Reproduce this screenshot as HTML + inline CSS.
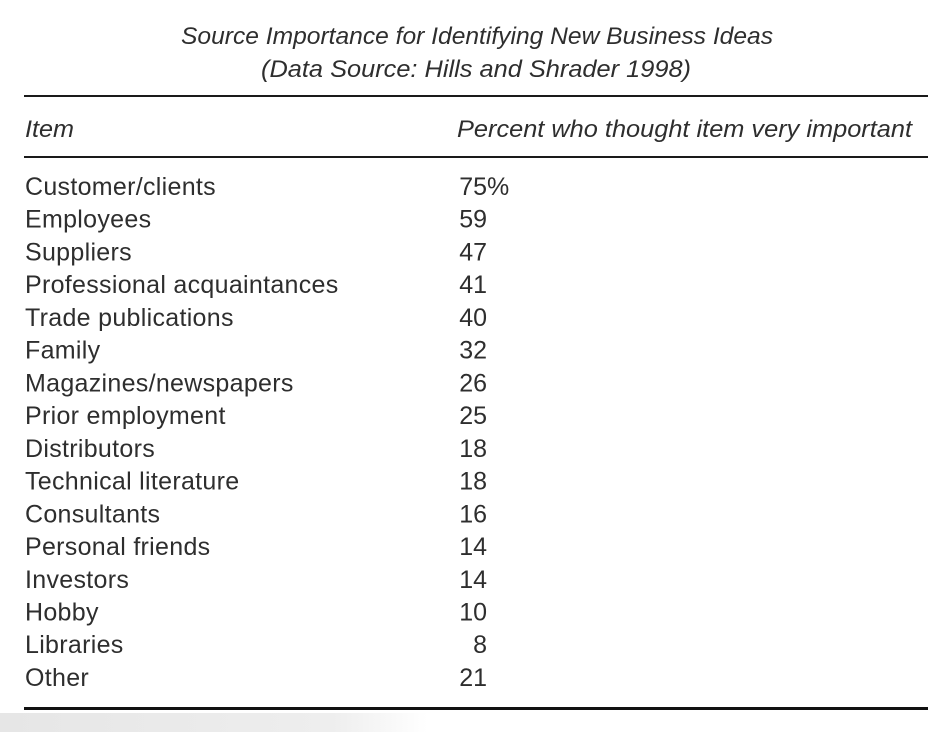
<!DOCTYPE html>
<html><head><meta charset="utf-8"><style>
html,body{margin:0;padding:0;background:#fff;width:950px;height:732px;overflow:hidden}
svg text{font-family:"Liberation Sans",sans-serif;fill:#2e2e2e}
</style></head><body>
<svg id="t" width="950" height="732" viewBox="0 0 950 732" xmlns="http://www.w3.org/2000/svg">
<defs><linearGradient id="g" x1="0" x2="1" y1="0" y2="0"><stop offset="0" stop-color="#e6e6e6"/><stop offset="0.35" stop-color="#eeeeee"/><stop offset="0.45" stop-color="#ffffff"/></linearGradient></defs>
<rect x="0" y="713" width="950" height="19" fill="url(#g)"/>
<text x="181" y="44" font-size="24" font-style="italic" textLength="592" lengthAdjust="spacingAndGlyphs">Source Importance for Identifying New Business Ideas</text>
<text x="261" y="77" font-size="24" font-style="italic" textLength="430" lengthAdjust="spacingAndGlyphs">(Data Source: Hills and Shrader 1998)</text>
<rect x="24" y="95" width="904" height="2" fill="#1a1a1a"/>
<text x="25" y="137" font-size="24" font-style="italic" textLength="49" lengthAdjust="spacingAndGlyphs">Item</text>
<text x="457" y="137" font-size="24" font-style="italic" textLength="455" lengthAdjust="spacingAndGlyphs">Percent who thought item very important</text>
<rect x="24" y="156" width="904" height="2" fill="#1a1a1a"/>
<g id="rows"></g>
<rect x="24" y="707" width="904" height="3" fill="#111"/>
</svg>
<script>
const items = ["Customer/clients","Employees","Suppliers","Professional acquaintances","Trade publications","Family","Magazines/newspapers","Prior employment","Distributors","Technical literature","Consultants","Personal friends","Investors","Hobby","Libraries","Other"];
const percents = [75,59,47,41,40,32,26,25,18,18,16,14,14,10,8,21];
const NS="http://www.w3.org/2000/svg";
const g=document.getElementById('rows');
items.forEach((name,i)=>{
  const y=195+i*32.73;
  const a=document.createElementNS(NS,'text');
  
  
  a.setAttribute('x',25);a.setAttribute('y',y);a.setAttribute('font-size',25);
  a.setAttribute('letter-spacing','0.3');
  a.textContent=name;g.appendChild(a);
  const b=document.createElementNS(NS,'text');
  
  
  b.setAttribute('x',487);b.setAttribute('y',y);b.setAttribute('font-size',25);
  b.setAttribute('text-anchor','end');
  b.textContent=String(percents[i]);g.appendChild(b);
  if(i===0){
    const p=document.createElementNS(NS,'text');
    
    
    p.setAttribute('x',487);p.setAttribute('y',y);p.setAttribute('font-size',25);
    p.textContent='%';g.appendChild(p);
  }
});
</script>
</body></html>
